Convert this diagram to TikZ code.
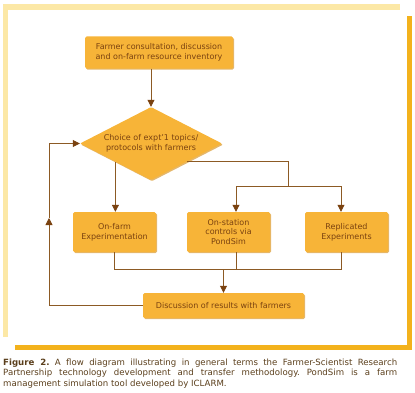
\documentclass[tikz,border=0pt]{standalone}
\usepackage{fontspec}
\setmainfont{DejaVu Sans}
\usetikzlibrary{shapes.geometric,arrows.meta,shadows}
\definecolor{BoxFill}{HTML}{F7B438}
\definecolor{BoxShade}{HTML}{D9982C}
\definecolor{Ink}{HTML}{7A4210}
\definecolor{Wire}{HTML}{8C5A24}
\definecolor{FrameLight}{HTML}{FCE8A6}
\definecolor{FrameDark}{HTML}{F3B21C}
\definecolor{CaptionInk}{HTML}{5A3E1B}
\tikzset{
  stepbox/.style={fill=BoxFill,rounded corners=1.5pt,text=Ink,align=center,inner sep=0pt,
    font=\fontsize{8}{9.6}\selectfont,
    drop shadow={fill=BoxShade,opacity=.7,shadow xshift=1pt,shadow yshift=-1.2pt}},
  wire/.style={draw=Wire,line width=.8pt},
  flow/.style={wire,-{Triangle[width=7pt,length=7pt,color=Ink]}}
}

\begin{document}
\begin{tikzpicture}[x=1pt,y=1pt]
\path[use as bounding box] (0,0) rectangle (415,392);
\fill[FrameLight] (3,382) rectangle (400,388);
\fill[FrameLight] (3,55) rectangle (8,388);
\fill[FrameDark] (407,42) rectangle (412,376);
\fill[FrameDark] (15,42) rectangle (412,47);

\node[stepbox,minimum width=148,minimum height=32] (consult) at (159,339.5)
  {Farmer consultation, discussion\\and on-farm resource inventory};
\node[stepbox,diamond,aspect=2,minimum width=142,minimum height=73,inner sep=-6pt,rounded corners=1pt] (choice) at (151,248.5)
  {Choice of expt'1 topics/\\protocols with farmers};
\node[stepbox,minimum width=83,minimum height=40] (onfarm) at (114.5,160)
  {On-farm\\Experimentation};
\node[stepbox,minimum width=83,minimum height=40] (station) at (228.5,160)
  {On-station\\controls via\\PondSim};
\node[stepbox,minimum width=83,minimum height=40] (replic) at (346.5,160)
  {Replicated\\Experiments};
\node[stepbox,minimum width=161,minimum height=25] (discuss) at (223.5,86.5)
  {Discussion of results with farmers};

\coordinate (split) at (288,206);
\coordinate (barL) at (236,206);
\coordinate (barR) at (341,206);
\coordinate (joinR) at (341,123);
\coordinate (loop) at (49,174);

\draw[flow] (consult.south -| choice.north) -- (choice.north);
\draw[flow] (choice.south west) -- (choice.south west |- onfarm.north);
\draw[wire] (choice.south east) -| (split);
\draw[wire] (barL) -- (barR);
\draw[flow] (barL) -- (barL |- station.north);
\draw[flow] (barR) -- (barR |- replic.north);
\draw[wire] (onfarm.south) |- (joinR) -- (joinR |- replic.south);
\draw[wire] (barL |- station.south) -- (barL |- joinR);
\draw[flow] (discuss.north |- joinR) -- (discuss.north);
\draw[flow] (discuss.west) -| (loop);
\draw[flow] (loop) |- (choice.west);

\node[anchor=north west,text width=394,align=justify,inner sep=0pt,text=CaptionInk,
  font=\fontsize{8.6}{10.7}\selectfont\frenchspacing] (caption) at (3,33.5)
  {\textbf{Figure 2.} A flow diagram illustrating in general terms the Farmer-Scientist Research\linebreak
   Partnership technology development and transfer methodology. PondSim is a farm\linebreak
   management simulation tool developed by ICLARM.};
\end{tikzpicture}
\end{document}
